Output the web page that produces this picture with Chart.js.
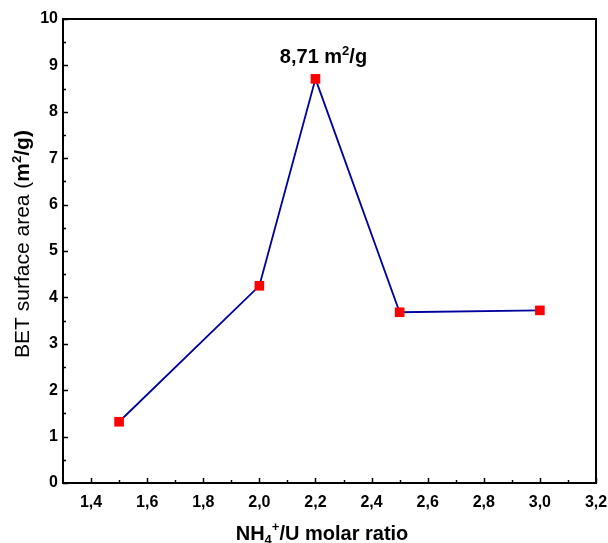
<!DOCTYPE html>
<html>
<head>
    <meta charset="utf-8">
    <title>BET surface area</title>
    <script src="https://cdn.jsdelivr.net/npm/chart.js@4.4.0/dist/chart.umd.min.js"></script>
    <style>
        html, body { margin: 0; padding: 0; background: #fff; }
        #grafico { display: block; }
    </style>
</head>
<body>
    <canvas id="grafico" width="608" height="543"></canvas>
    <script>
        // Datos
        const ratios = [1.5, 2.0, 2.2, 2.5, 3.0];
        const surfaceArea = [1.32, 4.25, 8.71, 3.68, 3.72];
        const xTicks = [1.4, 1.6, 1.8, 2.0, 2.2, 2.4, 2.6, 2.8, 3.0, 3.2];
        const xMinorTicks = [1.5, 1.7, 1.9, 2.1, 2.3, 2.5, 2.7, 2.9, 3.1];
        const yTicks = [0, 1, 2, 3, 4, 5, 6, 7, 8, 9, 10];
        const yMinorTicks = [0.5, 1.5, 2.5, 3.5, 4.5, 5.5, 6.5, 7.5, 8.5, 9.5];
        const peakIndex = 2;
        const peakText = ['8,71 m', '2', '/g'];

        const FONT = "'Liberation Sans', Arial, sans-serif";

        // dibuja texto con partes de distinto estilo (superindices, etc.)
        function drawParts(ctx, parts, x, y) {
            let total = 0;
            parts.forEach(p => { ctx.font = p.font; total += ctx.measureText(p.text).width; });
            let cx = x - total / 2;
            parts.forEach(p => {
                ctx.font = p.font;
                ctx.fillText(p.text, cx, y + (p.dy || 0));
                cx += ctx.measureText(p.text).width;
            });
        }

        const marcoPlugin = {
            id: 'marco',
            afterDraw(chart) {
                const ctx = chart.ctx;
                const a = chart.chartArea;
                const xs = chart.scales.x;
                const ys = chart.scales.y;
                ctx.save();
                ctx.strokeStyle = '#000';
                ctx.lineWidth = 2;
                ctx.beginPath();
                ctx.moveTo(a.left, a.top);
                ctx.lineTo(a.right, a.top);
                ctx.lineTo(a.right, a.bottom);
                ctx.stroke();

                // ticks hacia adentro
                ctx.lineWidth = 1.5;
                ctx.beginPath();
                xTicks.forEach(v => {
                    const px = Math.round(xs.getPixelForValue(v)) + 0.5;
                    ctx.moveTo(px, a.bottom); ctx.lineTo(px, a.bottom - 5);
                });
                xMinorTicks.forEach(v => {
                    const px = Math.round(xs.getPixelForValue(v)) + 0.5;
                    ctx.moveTo(px, a.bottom); ctx.lineTo(px, a.bottom - 3);
                });
                yTicks.forEach(v => {
                    const py = Math.round(ys.getPixelForValue(v)) + 0.5;
                    ctx.moveTo(a.left, py); ctx.lineTo(a.left + 5, py);
                });
                yMinorTicks.forEach(v => {
                    const py = Math.round(ys.getPixelForValue(v)) + 0.5;
                    ctx.moveTo(a.left, py); ctx.lineTo(a.left + 3, py);
                });
                ctx.stroke();

                ctx.fillStyle = '#000';
                ctx.textAlign = 'left';
                ctx.textBaseline = 'alphabetic';

                // titulo eje x
                drawParts(ctx, [
                    { text: 'NH', font: 'bold 20px ' + FONT },
                    { text: '4', font: 'bold 13px ' + FONT, dy: 4 },
                    { text: '+', font: 'bold 13px ' + FONT, dy: -9 },
                    { text: '/U molar ratio', font: 'bold 20px ' + FONT }
                ], 322, 540);

                // titulo eje y
                ctx.save();
                ctx.translate(29, 244);
                ctx.rotate(-Math.PI / 2);
                drawParts(ctx, [
                    { text: 'BET surface area (', font: '21px ' + FONT },
                    { text: 'm', font: 'bold 21px ' + FONT },
                    { text: '2', font: 'bold 13px ' + FONT, dy: -8 },
                    { text: '/g)', font: 'bold 21px ' + FONT }
                ], 0, 0);
                ctx.restore();

                // etiqueta del maximo
                const px = xs.getPixelForValue(ratios[peakIndex]);
                const py = ys.getPixelForValue(surfaceArea[peakIndex]);
                drawParts(ctx, [
                    { text: peakText[0], font: 'bold 20px ' + FONT },
                    { text: peakText[1], font: 'bold 13px ' + FONT, dy: -8 },
                    { text: peakText[2], font: 'bold 20px ' + FONT }
                ], px + 8, py - 16);
                ctx.restore();
            }
        };

        const ctx = document.getElementById('grafico').getContext('2d');
        new Chart(ctx, {
            type: 'line',
            data: {
                datasets: [{
                    data: ratios.map((r, i) => ({ x: r, y: surfaceArea[i] })),
                    borderColor: '#00009c',
                    borderWidth: 1.8,
                    tension: 0,
                    pointStyle: 'rect',
                    pointRadius: 6.8,
                    pointHoverRadius: 6.8,
                    pointBackgroundColor: '#ff0000',
                    pointBorderColor: '#ff0000',
                    pointBorderWidth: 0,
                    clip: false
                }]
            },
            options: {
                responsive: false,
                animation: false,
                events: [],
                layout: { padding: { top: 19, right: 12, left: 0, bottom: 0 } },
                plugins: {
                    legend: { display: false },
                    tooltip: { enabled: false }
                },
                scales: {
                    x: {
                        type: 'linear',
                        min: 1.3,
                        max: 3.2,
                        afterBuildTicks: scale => { scale.ticks = xTicks.map(v => ({ value: v })); },
                        afterFit: scale => {
                            scale.height = 60;
                            scale.paddingLeft = 0;
                            scale.paddingRight = 0;
                        },
                        grid: { display: false, drawTicks: false },
                        border: { display: true, color: '#000', width: 2 },
                        ticks: {
                            color: '#000',
                            padding: 10,
                            maxRotation: 0,
                            autoSkip: false,
                            font: { family: FONT, size: 16, weight: 'bold' },
                            callback: v => v.toFixed(1).replace('.', ',')
                        }
                    },
                    y: {
                        min: 0,
                        max: 10,
                        afterBuildTicks: scale => { scale.ticks = yTicks.map(v => ({ value: v })); },
                        afterFit: scale => {
                            scale.width = 63;
                            scale.paddingTop = 0;
                            scale.paddingBottom = 0;
                        },
                        grid: { display: false, drawTicks: false },
                        border: { display: true, color: '#000', width: 2 },
                        ticks: {
                            color: '#000',
                            padding: 5,
                            font: { family: FONT, size: 16, weight: 'bold' },
                            callback: v => String(v)
                        }
                    }
                }
            },
            plugins: [marcoPlugin]
        });
    </script>
</body>
</html>
